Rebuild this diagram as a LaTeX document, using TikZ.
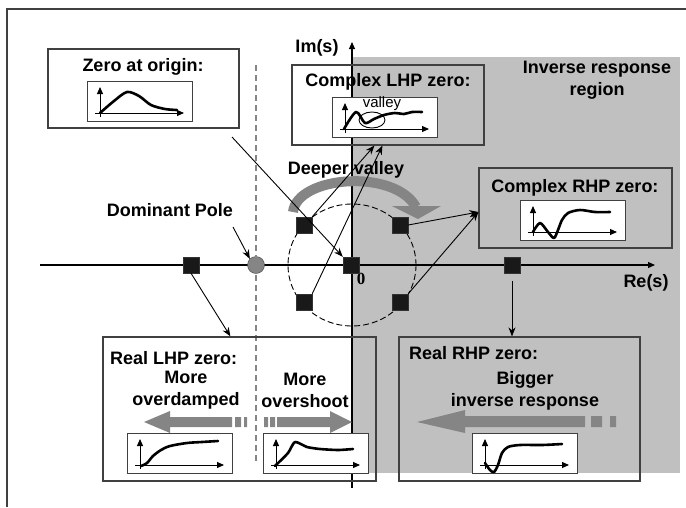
\documentclass[tikz,border=0pt]{standalone}
\usepackage{fontspec}
\setmainfont{Liberation Sans}
\newfontfamily\timesfont{Liberation Serif}
\usetikzlibrary{arrows.meta,calc}
\definecolor{regiongray}{HTML}{C0C0C0}
\definecolor{arrowgray}{HTML}{858585}
\definecolor{framegray}{HTML}{404040}

% small response plot: name, top-left corner, curve
\newcommand{\miniplot}[3]{%
  \node[plotbox,anchor=north west] (#1) at (#2) {};
  \begin{scope}[shift={(#2)}]
    \draw[tinyarrow] (8,32) -- (97,32);
    \draw[tinyarrow] (13,36) -- (13,6);
    \draw[curve] #3;
  \end{scope}}

\begin{document}
\begin{tikzpicture}[x=1pt,y=-1pt,
  box/.style={draw=framegray, line width=1.2pt, inner sep=0pt},
  plotbox/.style={draw=framegray, fill=white, line width=1pt, minimum width=105pt, minimum height=40pt, inner sep=0pt},
  zero/.style={draw=black!80, fill=black!90, minimum size=16pt, inner sep=0pt},
  conn/.style={-{Stealth[length=9pt,width=7pt]}, line width=0.9pt},
  tinyarrow/.style={-{Triangle[length=7pt,width=6pt]}, line width=1pt},
  curve/.style={line width=2.6pt, line cap=round, line join=round},
  title/.style={font=\fontsize{18}{22}\selectfont\bfseries, inner sep=0pt},
  bigarrow/.style={fill=arrowgray}]
\useasboundingbox (0,0) rectangle (686,507);

\draw[framegray, line width=1.2pt] (7,507) -- (7,9) -- (686,9);
\fill[regiongray] (352,57) rectangle (680,473);

% axes
\draw[tinyarrow, line width=1.1pt] (40,265) -- (655,265);
\draw[tinyarrow, line width=1.1pt] (352,488) -- (352,42);
\node[title] (imlbl) at (317,48) {Im(s)};
\node[title] (relbl) at (646,283) {Re(s)};
\node[font=\timesfont\bfseries\fontsize{17}{19}\selectfont, inner sep=0pt] (orig) at (361,279) {0};

\node[circle, draw=framegray, fill=arrowgray, minimum size=17pt, inner sep=0pt] (pole) at (256,265) {};
\draw[arrowgray, line width=1.3pt, dash pattern=on 6pt off 4pt] (256,65) -- (256,463);
\draw[line width=0.9pt, dash pattern=on 6pt off 3pt] (352,265) ellipse [x radius=64, y radius=61];

% boxes
\node[box, minimum width=191pt, minimum height=79pt] (zerobox) at (143.5,88.5) {};
\node[box, minimum width=192pt, minimum height=80pt] (clhpbox) at (388,105) {};
\node[box, minimum width=193pt, minimum height=80pt] (crhpbox) at (575.5,208) {};
\node[box, minimum width=273pt, minimum height=144pt] (rlhpbox) at (239.5,409) {};
\node[box, minimum width=241pt, minimum height=144pt] (rrhpbox) at (519.5,409) {};

\node[title] (zerottl) at (143,67) {Zero at origin:};
\node[title] (clhpttl) at (388,82) {Complex LHP zero:};
\node[title] (crhpttl) at (575,188) {Complex RHP zero:};
\node[title, anchor=west] (rlhpttl) at (110,358) {Real LHP zero:};
\node[title, align=center] (morel) at (186,390) {More\\overdamped};
\node[title, align=center] (morer) at (305,390) {More\\overshoot};
\node[title, anchor=west] (rrhpttl) at (409,353) {Real RHP zero:};
\node[title, align=center] (bigger) at (525,391) {Bigger\\inverse response};
\node[title, align=center] (invlbl) at (597,80) {Inverse response\\region};
\node[title] (polelbl) at (170,210) {Dominant Pole};
\node[title] (deeplbl) at (346,170) {Deeper valley};

% gray trend arrows
\fill[bigarrow] (144,422) -- (170,411) -- (170,417) -- (232,417) -- (232,427) -- (170,427) -- (170,433) -- cycle;
\fill[bigarrow] (235,417) rectangle (241,427) (244,417) rectangle (247,427);
\fill[bigarrow] (352,422) -- (330,411) -- (330,417) -- (277,417) -- (277,427) -- (330,427) -- (330,433) -- cycle;
\fill[bigarrow] (264,417) rectangle (268,427) (270,417) rectangle (275,427);
\fill[bigarrow] (417,422) -- (465,410) -- (465,416) -- (585,416) -- (585,427) -- (465,427) -- (465,433) -- cycle;
\fill[bigarrow] (591,416) rectangle (602,427) (610,416) rectangle (616,427);
\draw[arrowgray, line width=10pt] (293,212) .. controls (297,176) and (394,168) .. (416,207);
\fill[bigarrow] (392,206) -- (441,206) -- (418,219) -- cycle;

% response plots
\miniplot{zeroplot}{87,81}{plot[smooth] coordinates {(13,32) (27,20) (40,11) (52,15) (64,24) (78,28) (90,29)}}
\miniplot{clhpplot}{332,97}{plot[smooth, tension=0.5] coordinates {(12,32) (24,15) (33,26) (42,22) (52,18) (63,16) (72,17) (80,15) (90,15)}}
\draw[line width=0.9pt] (372,120) ellipse [x radius=13, y radius=8];
\node[font=\fontsize{15}{17}\selectfont, inner sep=0pt] (valleylbl) at (382,104) {valley};
\miniplot{crhpplot}{520,200}{plot[smooth, tension=0.5] coordinates {(13,32) (20,23) (28,32) (34,38) (38,30) (42,20) (48,13) (60,10) (75,12) (90,12)}}
\miniplot{rlhpleft}{127,433}{plot[smooth] coordinates {(14,33) (20,30) (26,23) (34,17) (43,13) (60,10) (75,9) (91,8)}}
\miniplot{rlhpright}{263,433}{plot[smooth, tension=0.4] coordinates {(12,33) (25,20) (32,9) (44,14) (57,16) (75,17) (90,16)}}
\miniplot{rrhpplot}{472,433}{plot[smooth, tension=0.5] coordinates {(13,30) (18,37) (22,39) (26,32) (30,20) (36,14) (48,12) (70,12) (90,11)}}

% zeros
\node[zero] (z0) at (351,265) {};
\node[zero] (zul) at (304,225) {};
\node[zero] (zur) at (400,225) {};
\node[zero] (zll) at (304,302) {};
\node[zero] (zlr) at (400,302) {};
\node[zero] (zrl) at (191,265) {};
\node[zero] (zrr) at (512,265) {};

% connectors
\coordinate (zstart) at (232,137);
\coordinate (polestart) at (233,227);
\draw[conn] (zstart) -- (z0.north west);
\draw[conn] (polestart) -- (pole.north west);
\draw[conn] (zrl.south) -- ($(rlhpbox.north west)+(128,0)$);
\draw[conn] (zul.north east) -- ($(clhpbox.south west)+(83,0)$);
\draw[conn] (zll.north east) -- ($(clhpbox.south west)+(91,0)$);
\draw[conn] (zur.east) -- ([yshift=-4pt]crhpbox.west);
\draw[conn] (zlr.north east) -- ([yshift=-4pt]crhpbox.west);
\draw[conn, shorten <=8pt] (zrr.south) -- (zrr.south |- rrhpbox.north);
\end{tikzpicture}
\end{document}
